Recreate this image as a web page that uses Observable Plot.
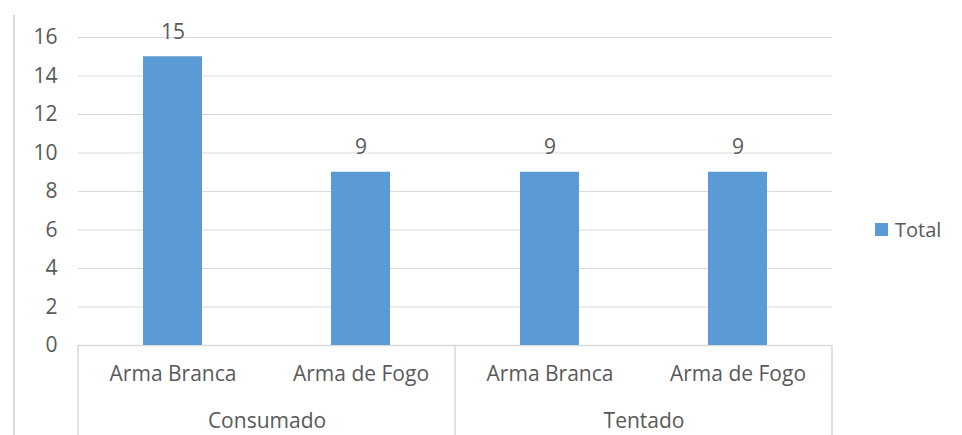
<!DOCTYPE html>
<html>
<head>
<meta charset="utf-8">
<script src="https://cdn.jsdelivr.net/npm/d3@7"></script>
<script src="https://cdn.jsdelivr.net/npm/@observablehq/plot@0.6"></script>
<style>
  html, body { margin: 0; padding: 0; background: #fff; }
  #wrap { position: relative; width: 962px; height: 435px; font-family: "Open Sans", sans-serif; }
  #border { position: absolute; left: 13px; top: 15px; width: 2px; height: 420px; background: #d9d9d9; }
  #legend { position: absolute; left: 875px; top: 216px; display: flex; align-items: center; font-size: 20px; color: #595959; }
  #legend .sw { width: 13px; height: 13px; background: #5B9BD5; margin-right: 7px; }
</style>
</head>
<body>
<div id="wrap">
  <div id="border"></div>
  <div id="chart"></div>
  <div id="legend"><span class="sw"></span><span>Total</span></div>
</div>
<script>
const groups = ["Consumado", "Consumado", "Tentado", "Tentado"];
const weapons = ["Arma Branca", "Arma de Fogo", "Arma Branca", "Arma de Fogo"];
const totals = [15, 9, 9, 9];
const yTicks = [0, 2, 4, 6, 8, 10, 12, 14, 16];
const groupNames = ["Consumado", "Tentado"];

const data = groups.map((g, i) => ({group: g, weapon: weapons[i], total: totals[i]}));

const plot = Plot.plot({
  width: 962,
  height: 435,
  marginLeft: 78,
  marginRight: 130,
  marginTop: 37,
  marginBottom: 90,
  style: {fontFamily: "'Open Sans', sans-serif", fontSize: "21px", color: "#595959", background: "transparent", overflow: "visible"},
  fx: {domain: groupNames, padding: 0, axis: null},
  x: {domain: ["Arma Branca", "Arma de Fogo"], paddingInner: 0.687, paddingOuter: 0.3435, tickSize: 0, tickPadding: 21, label: null},
  y: {domain: [0, 16], ticks: yTicks, tickSize: 0, tickPadding: 21, label: null},
  marks: [
    Plot.ruleY(yTicks.filter(d => d > 0), {stroke: "#d9d9d9", strokeWidth: 1}),
    Plot.ruleY([0], {stroke: "#d9d9d9", strokeWidth: 1.5}),
    Plot.barY(data, {fx: "group", x: "weapon", y: "total", fill: "#5B9BD5"}),
    Plot.text(data, {fx: "group", x: "weapon", y: "total", text: d => String(d.total), lineAnchor: "bottom", dy: -18, fill: "#595959"}),
    Plot.text(groupNames, {fx: d => d, text: d => d, frameAnchor: "bottom", lineAnchor: "middle", dy: 76, fill: "#595959"})
  ]
});
document.getElementById("chart").appendChild(plot);

// category separators below the axis, from the fx scale
const fx = plot.scale("fx");
const r0 = fx.range[0], r1 = fx.range[1];
const step = (r1 - r0) / fx.domain.length;
const edges = d3.range(fx.domain.length + 1).map(i => r0 + i * step);
d3.select(plot).append("g")
  .selectAll("line").data(edges).join("line")
  .attr("x1", d => d).attr("x2", d => d)
  .attr("y1", 435 - 90).attr("y2", 435)
  .attr("stroke", "#d9d9d9").attr("stroke-width", 1.5);
</script>
</body>
</html>
